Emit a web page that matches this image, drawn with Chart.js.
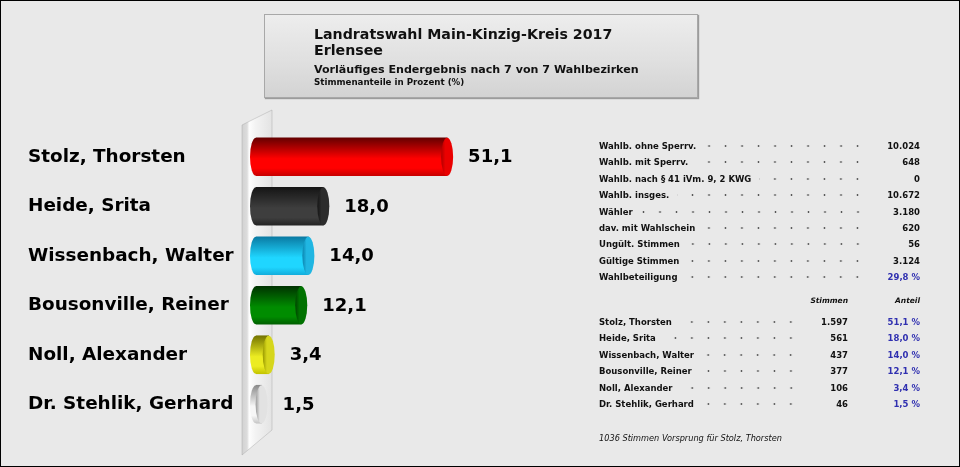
<!DOCTYPE html>
<html>
<head>
<meta charset="utf-8">
<script src="https://cdn.jsdelivr.net/npm/chart.js@4/dist/chart.umd.min.js"></script>
<style>
html,body{margin:0;padding:0;background:#e9e9e9;}
#wrap{position:relative;width:960px;height:467px;overflow:hidden;background:#e9e9e9;font-family:"DejaVu Sans",Verdana,sans-serif;color:#111;}
#frame{position:absolute;left:0;top:0;width:960px;height:467px;box-sizing:border-box;border:1px solid #000;pointer-events:none;z-index:10;}
#chart{position:absolute;left:0;top:0;}
#titlebox{position:absolute;left:264px;top:14px;width:434px;height:84px;box-sizing:border-box;border:1px solid #a8a8a8;background:linear-gradient(180deg,#ededed 0%,#e0e0e0 55%,#d3d3d3 100%);box-shadow:1px 1px 1px #9c9c9c;z-index:2;}
.t{position:absolute;left:49px;white-space:nowrap;font-weight:bold;color:#111;}
.row{position:absolute;display:flex;align-items:center;height:12px;line-height:12px;font-size:8.5px;font-weight:bold;white-space:nowrap;z-index:2;}
.lab{flex:none;}
.lead{flex:1;height:12px;margin-left:8px;background-image:radial-gradient(circle,#555 0,#555 0.7px,rgba(0,0,0,0) 1.2px);background-size:16.5px 12px;background-repeat:repeat-x;background-position:right center;}
.val{position:absolute;height:12px;line-height:12px;font-size:8.5px;font-weight:bold;text-align:right;white-space:nowrap;z-index:2;}
.blue{color:#3030b0;}
.hdr{position:absolute;font-size:7.5px;font-weight:bold;font-style:italic;text-align:right;height:10px;line-height:10px;z-index:2;}
#foot{position:absolute;left:599px;top:432px;font-size:8.2px;font-style:italic;line-height:12px;white-space:nowrap;z-index:2;}
</style>
</head>
<body>
<div id="wrap">
  <canvas id="chart" width="960" height="467"></canvas>
  <div id="titlebox"></div>
  <div id="tables"></div>
  <div id="frame"></div>
</div>
<script>
// ---- data ----
const titleLines = [
  "Landratswahl Main-Kinzig-Kreis 2017",
  "Erlensee",
  "Vorläufiges Endergebnis nach 7 von 7 Wahlbezirken",
  "Stimmenanteile in Prozent (%)"
];
const candidates = ["Stolz, Thorsten","Heide, Srita","Wissenbach, Walter","Bousonville, Reiner","Noll, Alexander","Dr. Stehlik, Gerhard"];
const shares = [51.1, 18.0, 14.0, 12.1, 3.4, 1.5];
const votes = ["1.597","561","437","377","106","46"];
const statLabels = ["Wahlb. ohne Sperrv.","Wahlb. mit Sperrv.","Wahlb. nach § 41 iVm. 9, 2 KWG","Wahlb. insges.","Wähler","dav. mit Wahlschein","Ungült. Stimmen","Gültige Stimmen","Wahlbeteiligung"];
const statValues = ["10.024","648","0","10.672","3.180","620","56","3.124","29,8 %"];
const tableHeaders = ["Stimmen","Anteil"];
const footNote = "1036 Stimmen Vorsprung für Stolz, Thorsten";

// ---- styles ----
const barStyles = [
  {top:'#650000', mid:'#ff0000', bot:'#c80000', cap:'#ea0000', rim:'#b00000'},
  {top:'#151515', mid:'#3e3e3e', bot:'#242424', cap:'#2c2c2c', rim:'#161616'},
  {top:'#0a7aa3', mid:'#1fd6ff', bot:'#12aedd', cap:'#20b6e2', rim:'#0b86b0'},
  {top:'#003300', mid:'#008c00', bot:'#005f00', cap:'#007200', rim:'#004400'},
  {top:'#747400', mid:'#ecec22', bot:'#c4c400', cap:'#d6d61c', rim:'#9a9a00'},
  {top:'#8a8a8a', mid:'#f6f6f6', bot:'#c6c6c6', cap:'#e2e2e2', rim:'#9a9a9a'}
];
const FONT = '"DejaVu Sans", Verdana, sans-serif';

// ---- HTML title & tables ----
(function(){
  const tb = document.getElementById('titlebox');
  const specs = [{s:14.2,b:39},{s:14.2,b:55},{s:11.1,b:73},{s:8.7,b:85}];
  titleLines.forEach((txt,i)=>{
    const d = document.createElement('div');
    d.className='t';
    d.style.fontSize = specs[i].s+'px';
    d.style.lineHeight = specs[i].s+'px';
    d.style.top = (specs[i].b - 0.846*specs[i].s - 15)+'px';
    d.textContent = txt;
    tb.appendChild(d);
  });
  const tables = document.getElementById('tables');
  function addRow(label, y, leadRight){
    const r = document.createElement('div');
    r.className='row';
    r.style.left='599px';
    r.style.top=(y-6)+'px';
    r.style.width=(leadRight-599)+'px';
    const l=document.createElement('span'); l.className='lab'; l.textContent=label;
    const ld=document.createElement('span'); ld.className='lead';
    r.appendChild(l); r.appendChild(ld);
    tables.appendChild(r);
  }
  function addVal(txt, y, right, blue){
    const v=document.createElement('div');
    v.className='val'+(blue?' blue':'');
    v.style.left=(right-80)+'px'; v.style.width='80px';
    v.style.top=(y-6)+'px';
    v.textContent=txt;
    tables.appendChild(v);
  }
  statLabels.forEach((lab,i)=>{
    const y = 146 + 16.4*i;
    addRow(lab, y, 866);
    addVal(statValues[i], y, 920, i===statLabels.length-1);
  });
  const hx=[848,920];
  tableHeaders.forEach((h,i)=>{
    const d=document.createElement('div'); d.className='hdr';
    d.style.left=(hx[i]-60)+'px'; d.style.width='60px'; d.style.top='296px';
    d.textContent=h; tables.appendChild(d);
  });
  candidates.forEach((c,i)=>{
    const y = 322 + 16.4*i;
    addRow(c, y, 799);
    addVal(votes[i], y, 848, false);
    addVal(shares[i].toFixed(1).replace('.',',')+' %', y, 920, true);
  });
  const f=document.createElement('div'); f.id='foot'; f.textContent=footNote; tables.appendChild(f);
})();

// ---- chart ----
const CAP_RX = 6;
function barGradient(c, yc, h, st){
  const g = c.createLinearGradient(0, yc-h/2, 0, yc+h/2);
  g.addColorStop(0, st.top);
  g.addColorStop(0.55, st.mid);
  g.addColorStop(0.8, st.mid);
  g.addColorStop(1, st.bot);
  return g;
}

const cylinderPlugin = {
  id:'cylinders',
  beforeDatasetsDraw(chart){
    const c = chart.ctx, a = chart.chartArea;
    const L = a.left;
    const x0 = L-14, x1 = L+16;
    c.save();
    const wg = c.createLinearGradient(x0,0,x1,0);
    wg.addColorStop(0,'#d2d2d2');
    wg.addColorStop(0.17,'#dcdcdc');
    wg.addColorStop(0.24,'#fdfdfd');
    wg.addColorStop(0.45,'#f3f3f3');
    wg.addColorStop(1,'#e3e3e3');
    c.fillStyle = wg;
    c.beginPath();
    c.moveTo(x0, a.top-7);
    c.lineTo(x1, a.top-22);
    c.lineTo(x1, a.bottom+1);
    c.lineTo(x0, a.bottom+26);
    c.closePath();
    c.fill();
    c.strokeStyle='rgba(150,150,150,0.35)';
    c.lineWidth=1;
    c.stroke();
    const meta = chart.getDatasetMeta(0);
    meta.data.forEach((bar,i)=>{
      const p = bar.getProps(['x','y','base','height'],true);
      const st = barStyles[i];
      c.fillStyle = barGradient(c, p.y, p.height, st);
      c.beginPath();
      c.ellipse(p.base, p.y, CAP_RX, p.height/2, 0, Math.PI/2, Math.PI*1.5);
      c.closePath();
      c.fill();
    });
    c.restore();
  },
  afterDatasetsDraw(chart){
    const c = chart.ctx;
    const meta = chart.getDatasetMeta(0);
    c.save();
    meta.data.forEach((bar,i)=>{
      const p = bar.getProps(['x','y','base','height'],true);
      const st = barStyles[i];
      const cg = c.createLinearGradient(p.x-CAP_RX,0,p.x+CAP_RX,0);
      cg.addColorStop(0, st.rim);
      cg.addColorStop(0.35, st.cap);
      cg.addColorStop(1, st.cap);
      c.fillStyle = cg;
      c.beginPath();
      c.ellipse(p.x, p.y, CAP_RX, p.height/2, 0, 0, Math.PI*2);
      c.fill();
      c.fillStyle = '#000';
      c.font = 'bold 18px ' + FONT;
      c.textAlign = 'left';
      c.textBaseline = 'middle';
      c.fillText(shares[i].toFixed(1).replace('.',','), p.x + 21, p.y + 1);
    });
    c.restore();
  }
};

new Chart(document.getElementById('chart'), {
  type:'bar',
  data:{
    labels: candidates,
    datasets:[{
      data: shares,
      barThickness: 38,
      borderWidth: 0,
      backgroundColor(ctx){
        const chart = ctx.chart;
        const st = barStyles[ctx.dataIndex % barStyles.length];
        const ys = chart.scales && chart.scales.y;
        if (!ys || ctx.type !== 'data' || !chart.chartArea) return st.mid;
        const yc = ys.getPixelForValue(ctx.dataIndex);
        return barGradient(chart.ctx, yc, 38, st);
      }
    }]
  },
  options:{
    indexAxis:'y',
    responsive:false,
    animation:false,
    events:[],
    layout:{padding:{left:28, right:330, top:132, bottom:38}},
    plugins:{legend:{display:false}, tooltip:{enabled:false}},
    scales:{
      x:{display:false, min:0, max:100},
      y:{
        grid:{display:false},
        border:{display:false},
        ticks:{
          crossAlign:'far',
          color:'#000',
          font:{family:FONT, size:18.4, weight:'bold'}
        },
        afterFit(scale){ scale.width = 228; }
      }
    }
  },
  plugins:[cylinderPlugin]
});
</script>
</body>
</html>
